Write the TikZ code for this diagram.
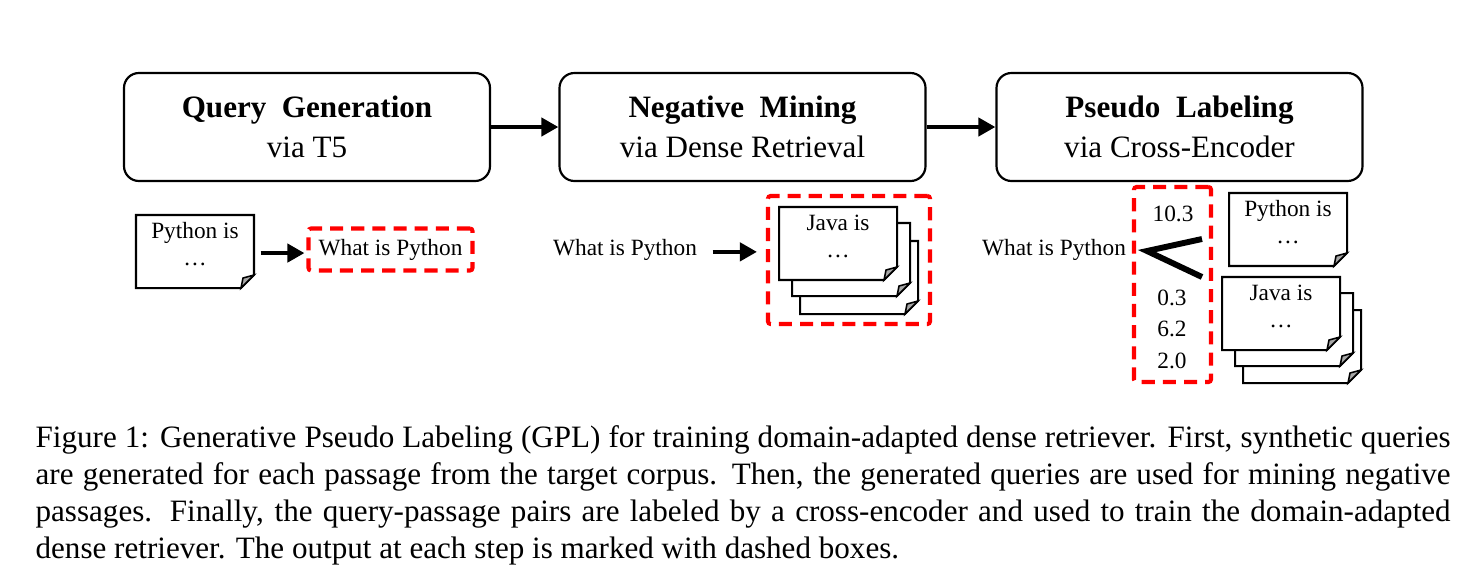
\documentclass[tikz,border=0pt]{standalone}
\usepackage{fontspec}
\setmainfont{Liberation Serif}
\usetikzlibrary{arrows.meta}

\newcommand{\pxu}{0.3216pt}
\tikzset{
  stage/.style={draw, line width=0.7pt, rounded corners=4.8pt,
    minimum width=366*\pxu, minimum height=108*\pxu, align=center,
    font=\fontsize{10}{12.9}\selectfont},
  flow/.style={line width=1.45pt, -{Triangle[length=5.5pt,width=5.8pt]}},
  outbox/.style={draw=red, line width=1.3pt, dash pattern=on 4.2pt off 2.6pt,
    rounded corners=0.8pt, inner sep=0pt},
  docfont/.style={font=\fontsize{7.5}{8.7}\selectfont, align=center, inner sep=0pt},
  sheetline/.style={draw, fill=white, line width=0.65pt},
  fold/.style={draw, fill=black!35, line width=0.5pt},
  fork/.style={line width=1.9pt},
}
% \sheet{name}{left}{top}{text}
\newcommand{\sheet}[4]{%
  \filldraw[sheetline] (#2,#3) -- (#2+118,#3) -- (#2+118,#3+60)
     -- (#2+105,#3+73) -- (#2,#3+73) -- cycle;
  \filldraw[fold] (#2+105,#3+73) -- (#2+118,#3+60) -- (#2+107,#3+63) -- cycle;
  \path (#2+59,#3+36.5) node[minimum width=118*\pxu, minimum height=73*\pxu] (#1) {};
  \node[docfont] (#1t) at (#2+59,#3+29) {#4};
}

\begin{document}
\begin{tikzpicture}[x=\pxu, y=-\pxu]
\useasboundingbox (0,0) rectangle (1480,580);

% three stages
\node[stage] (qgen) at (307,127) {\textbf{Query\enspace Generation}\\via T5};
\node[stage] (negmine) at (742.5,127) {\textbf{Negative\enspace Mining}\\via Dense Retrieval};
\node[stage] (pseudo) at (1179.5,127) {\textbf{Pseudo\enspace Labeling}\\via Cross-Encoder};
\draw[flow] (qgen) -- (negmine);
\draw[flow] (negmine) -- (pseudo);

% step 1
\sheet{passage}{136}{215}{Python is\\\ldots}
\node[docfont, outbox, minimum width=164*\pxu, minimum height=42*\pxu] (genq) at (390.5,249.5) {\raisebox{-0.6pt}{What is Python}};
\draw[flow, shorten <=6*\pxu, shorten >=2*\pxu] ([yshift=-0.5pt]passage.east) -- ([yshift=-0.5pt]passage.east -| genq.west);

% step 2
\node[docfont] (q2) at (625,250) {What is Python};
\node[outbox, minimum width=162*\pxu, minimum height=128*\pxu] (negbox) at (849,260) {};
\sheet{negc}{800}{241}{}
\sheet{negb}{792}{223}{}
\sheet{nega}{779}{207}{Java is\\\ldots}
\draw[flow, shorten <=15*\pxu, shorten >=9*\pxu] ([yshift=-0.6pt]q2.east) -- ([yshift=-0.6pt]q2.east -| negbox.west);

% step 3
\node[docfont] (q3) at (1054,250) {What is Python};
\node[outbox, minimum width=77*\pxu, minimum height=195*\pxu] (scorebox) at (1172.5,284.5) {};
\node[docfont] (s1) at (1173,214) {10.3};
\node[docfont] (s2) at (1172,298) {0.3};
\node[docfont] (s3) at (1172,329) {6.2};
\node[docfont] (s4) at (1172,361) {2.0};
\sheet{posdoc}{1229}{193}{Python is\\\ldots}
\sheet{negz}{1243}{310}{}
\sheet{negy}{1235}{293}{}
\sheet{negx}{1222}{277}{Java is\\\ldots}
\coordinate (forkup) at (1202,239);
\coordinate (forktip) at (1147,251);
\coordinate (forkdn) at (1202,277);
\draw[fork] (forkup) -- (forktip) -- (forkdn);

% caption
\node[anchor=north west, text width=1415*\pxu, align=justify, inner sep=0pt,
  font=\fontsize{10}{12}\selectfont] (caption) at (35,424.5)
  {Figure 1: Generative Pseudo Labeling (GPL) for training domain-adapted dense retriever. First, synthetic queries\linebreak
  are generated for each passage from the target corpus. Then, the generated queries are used for mining negative\linebreak
  passages. Finally, the query-passage pairs are labeled by a cross-encoder and used to train the domain-adapted\linebreak
  dense retriever. The output at each step is marked with dashed boxes.};
\end{tikzpicture}
\end{document}
